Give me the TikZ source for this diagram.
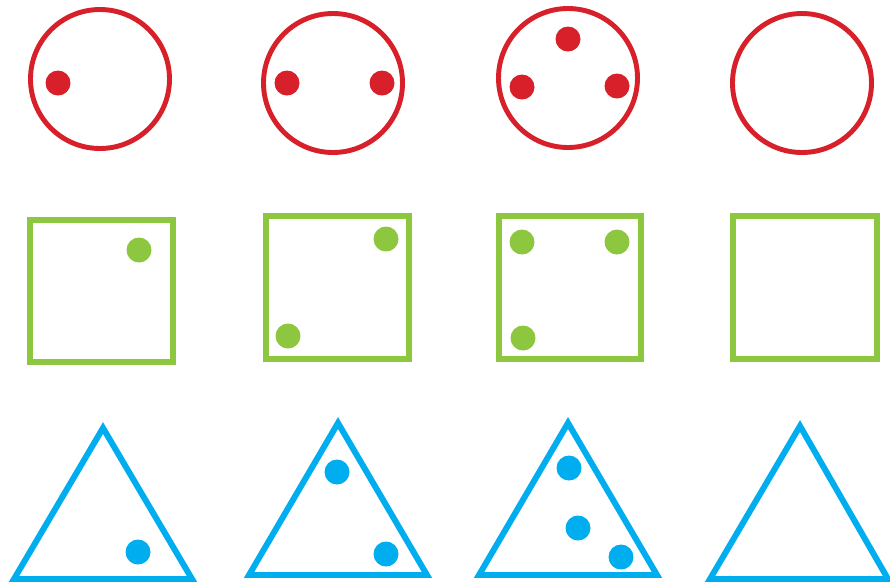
\documentclass[tikz,border=0pt]{standalone}
\usepackage{tikz}

\definecolor{ringred}{HTML}{D7202A}
\definecolor{boxgreen}{HTML}{8DC63F}
\definecolor{triblue}{HTML}{00AEEF}

\begin{document}
\begin{tikzpicture}[
      x=0.02cm, y=-0.02cm,
      ring/.style={draw=ringred, line width=2.8pt},
      box/.style={draw=boxgreen, line width=3.4pt},
      tri/.style={draw=triblue, line width=3.4pt},
      reddot/.style={fill=ringred},
      greendot/.style={fill=boxgreen},
      bluedot/.style={fill=triblue}
  ]
      \useasboundingbox (0,0) rectangle (890,583);

      % Circles
      \draw[ring] (100,79) circle [radius=69.5];
      \draw[ring] (333,83) circle [radius=69.5];
      \draw[ring] (568,78) circle [radius=69.5];
      \draw[ring] (802,83) circle [radius=69.5];
      \fill[reddot] (58,83) circle [radius=12.5];
      \fill[reddot] (287,83) circle [radius=12.5];
      \fill[reddot] (382,83) circle [radius=12.5];
      \fill[reddot] (568,39) circle [radius=12.5];
      \fill[reddot] (522,87) circle [radius=12.5];
      \fill[reddot] (617,86) circle [radius=12.5];

      % Squares
      \draw[box] (30,220) rectangle (173,362);
      \draw[box] (266,216) rectangle (409,359);
      \draw[box] (499,216) rectangle (641,359);
      \draw[box] (733,216) rectangle (877,359);
      \fill[greendot] (139,250) circle [radius=12.5];
      \fill[greendot] (386,239) circle [radius=12.5];
      \fill[greendot] (288,336) circle [radius=12.5];
      \fill[greendot] (522,242) circle [radius=12.5];
      \fill[greendot] (617,242) circle [radius=12.5];
      \fill[greendot] (523,338) circle [radius=12.5];

      % Triangles
      \draw[tri] (103,428) -- (192,579) -- (14,579) -- cycle;
      \draw[tri] (338,423) -- (427,575) -- (249,575) -- cycle;
      \draw[tri] (568,423) -- (657,575) -- (479,575) -- cycle;
      \draw[tri] (800,426) -- (888,579) -- (710,579) -- cycle;
      \fill[bluedot] (138,552) circle [radius=12.5];
      \fill[bluedot] (337,472) circle [radius=12.5];
      \fill[bluedot] (386,554) circle [radius=12.5];
      \fill[bluedot] (569,468) circle [radius=12.5];
      \fill[bluedot] (578,528) circle [radius=12.5];
      \fill[bluedot] (621,557) circle [radius=12.5];
  \end{tikzpicture}
\end{document}
